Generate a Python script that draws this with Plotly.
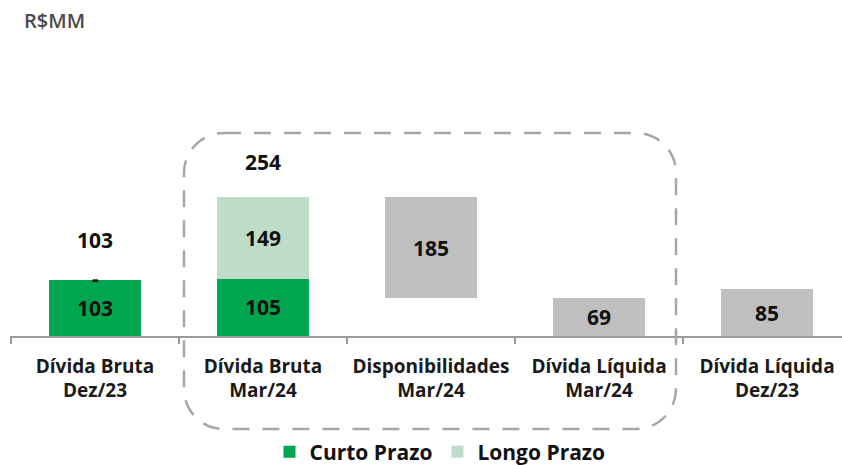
import plotly.graph_objects as go

# ---- data ----
categories = ["Dívida Bruta<br>Dez/23", "Dívida Bruta<br>Mar/24", "Disponibilidades<br>Mar/24",
              "Dívida Líquida<br>Mar/24", "Dívida Líquida<br>Dez/23"]
curto_cats = categories[:2]
curto_vals = [103, 105]
longo_cats = categories[:2]
longo_vals = [0, 149]
gray_cats = categories[2:]
gray_vals = [185, 69, 85]
gray_base = [69, 0, 0]
totals = [103, 254]

GREEN = "#00A54F"
LIGHT = "#BFDCC9"
GRAY = "#BFBFBF"
FONT = "Open Sans"

W, H = 842, 465
L, R, T, B = 10, 0, 60, 129
PW, PH = W - L - R, H - T - B
YMAX = 504.4

fig = go.Figure()
fig.add_bar(x=curto_cats, y=curto_vals, name="Curto Prazo", marker=dict(color=GREEN, line=dict(width=0)),
            width=0.55, hoverinfo="skip")
fig.add_bar(x=longo_cats, y=longo_vals, name="Longo Prazo", marker=dict(color=LIGHT, line=dict(width=0)),
            width=0.55, hoverinfo="skip")
fig.add_bar(x=gray_cats, y=gray_vals, base=gray_base, name="", showlegend=False,
            marker=dict(color=GRAY, line=dict(width=0)), width=0.55, hoverinfo="skip")

ann = []
lab_font = dict(family=FONT, size=21, color="#111111", weight=700)
# segment labels
for c, v in zip(curto_cats, curto_vals):
    ann.append(dict(x=c, y=v / 2, text=str(v), showarrow=False, font=lab_font))
for c, v, b in zip(longo_cats, longo_vals, curto_vals):
    ann.append(dict(x=c, y=b + v / 2, text=str(v) if v else "-", showarrow=False, font=lab_font,
                    yshift=2 if not v else 0))
for c, v, b in zip(gray_cats, gray_vals, gray_base):
    ann.append(dict(x=c, y=b + v / 2, text=str(v), showarrow=False, font=lab_font))
# totals
tot_shift = [40, 35]
for c, t, s in zip(categories[:2], totals, tot_shift):
    ann.append(dict(x=c, y=t, text=str(t), showarrow=False, font=lab_font, yshift=s))
# unit label
ann.append(dict(xref="paper", yref="paper", x=(22 - L) / PW, y=(T + PH - 20) / PH, xanchor="left",
                yanchor="middle", text="R$MM", showarrow=False,
                font=dict(family=FONT, size=20, color="#4a4a4a", weight=600)))


def px2x(p):
    return (p - L) / PW


def py2y(p):
    return (T + PH - p) / PH


# rounded dashed box
bl, br, bt, bb, r = 184, 676, 133, 429, 40
k = 0.5523 * r
pts = [
    ("M", [(bl + r, bt)]),
    ("L", [(br - r, bt)]),
    ("C", [(br - r + k, bt), (br, bt + r - k), (br, bt + r)]),
    ("L", [(br, bb - r)]),
    ("C", [(br, bb - r + k), (br - r + k, bb), (br - r, bb)]),
    ("L", [(bl + r, bb)]),
    ("C", [(bl + r - k, bb), (bl, bb - r + k), (bl, bb - r)]),
    ("L", [(bl, bt + r)]),
    ("C", [(bl, bt + r - k), (bl + r - k, bt), (bl + r, bt)]),
]
path = ""
for cmd, ps in pts:
    path += cmd + " ".join(f"{px2x(a):.5f},{py2y(b):.5f}" for a, b in ps) + " "
path += "Z"

fig.update_layout(
    width=W, height=H,
    margin=dict(l=L, r=R, t=T, b=B, autoexpand=False),
    paper_bgcolor="white", plot_bgcolor="white",
    barmode="stack",
    showlegend=True,
    legend=dict(orientation="h", xanchor="center", x=px2x(440), yanchor="middle", y=py2y(452),
                font=dict(family=FONT, size=21, color="#111111", weight=700),
                bgcolor="rgba(0,0,0,0)", itemclick=False, itemdoubleclick=False, traceorder="normal"),
    annotations=ann,
    shapes=[dict(type="path", xref="paper", yref="paper", path=path,
                 line=dict(color="#A6A6A6", width=2.5, dash="17px,13px"))],
    xaxis=dict(type="category", categoryorder="array", categoryarray=categories,
               range=[-0.5 - 1 / 168, (W - 95) / 168], showline=True, linecolor="#9A9A9A", linewidth=1.5,
               ticks="outside", tickson="boundaries", ticklen=6, tickcolor="#9A9A9A", tickwidth=1.5,
               ticklabelstandoff=12,
               showgrid=False, zeroline=False, automargin=False,
               tickfont=dict(family=FONT, size=19, color="#1a1a1a", weight=700)),
    yaxis=dict(range=[0, YMAX], visible=False, showgrid=False, zeroline=False, fixedrange=True),
    font=dict(family=FONT),
)

fig.write_html("out.html", config={"displayModeBar": False},
               post_script="document.body.style.margin='0px';")
